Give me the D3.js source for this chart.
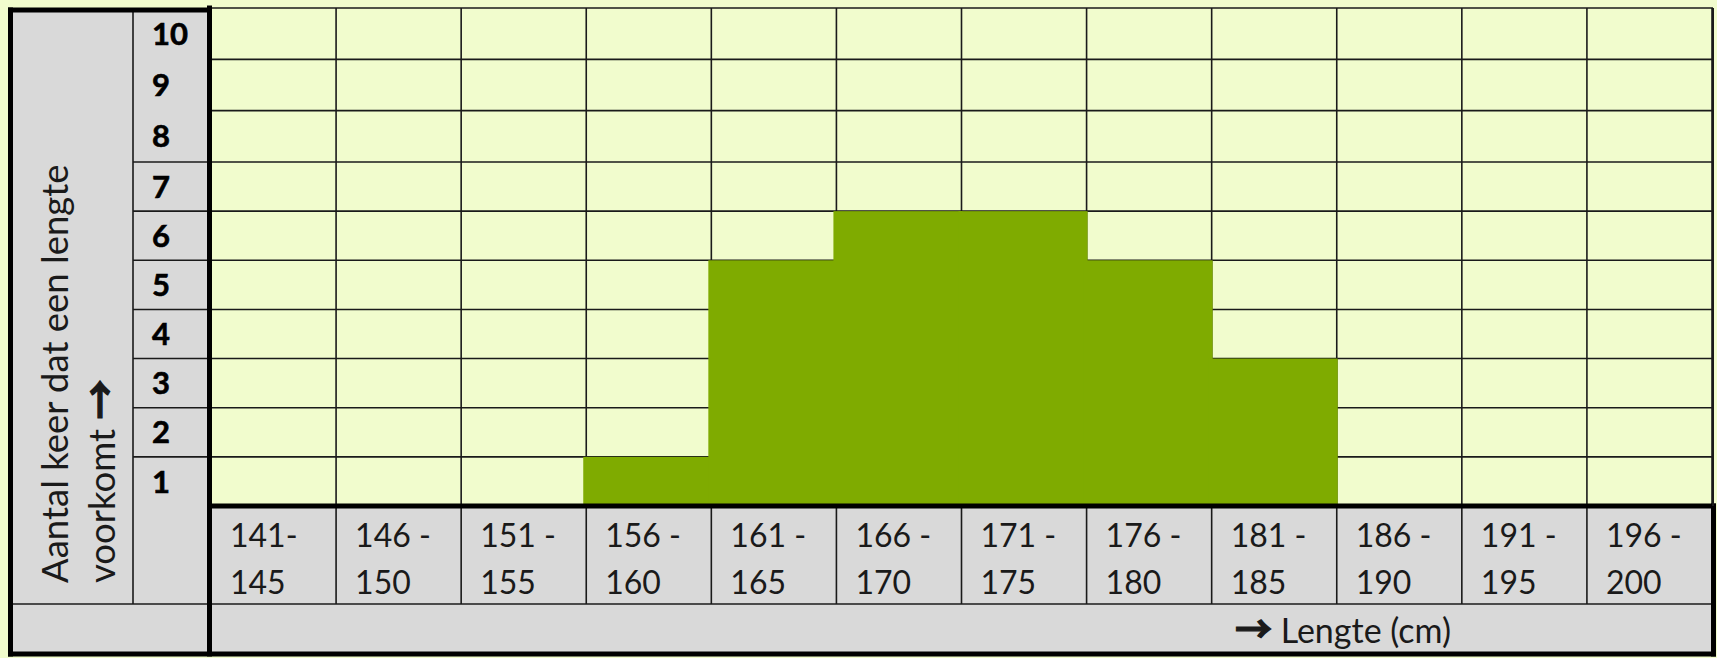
<!DOCTYPE html>
<html>
<head>
<meta charset="utf-8">
<script src="https://cdn.jsdelivr.net/npm/d3@7"></script>
<style>
  body { margin: 0; background: #f1fccd; }
  text { font-family: Lato, "Open Sans", sans-serif; }
  .arrow { font-family: "Noto Sans CJK JP", "DejaVu Sans", sans-serif; }
</style>
</head>
<body>
<div id="chart"></div>
<script>
var categories = ['141-145','146-150','151-155','156-160','161-165','166-170','171-175','176-180','181-185','186-190','191-195','196-200'];
var labelTop = ['141-','146 -','151 -','156 -','161 -','166 -','171 -','176 -','181 -','186 -','191 -','196 -'];
var labelBottom = ['145','150','155','160','165','170','175','180','185','190','195','200'];
var counts = [0,0,0,1,5,6,6,5,3,0,0,0];
var yTicks = [1,2,3,4,5,6,7,8,9,10];
var yTitle = ['Aantal keer dat een lengte', 'voorkomt '];
var xTitle = ' Lengte (cm)';
var arrow = '\u2192';

var width = 1717, height = 658;
var gridLeft = 211, gridRight = 1712, gridTop = 8, gridBottom = 506;
var labelRowBottom = 604, bottom = 654;
var colLine = 133, sep = 209.5;
var grey = '#d9d9d9', fillBg = '#f1fccd', green = '#7fab00', ink = '#1a1a1a';

var svg = d3.select('#chart').append('svg')
  .attr('width', width).attr('height', height);

var x = d3.scaleBand().domain(categories).range([gridLeft, gridRight]).padding(0);
var y = d3.scaleLinear().domain([0, 7, 10]).range([gridBottom, 162, gridTop]);

// panels
svg.append('rect').attr('x', 11).attr('y', 10).attr('width', sep - 11).attr('height', bottom - 10).attr('fill', grey);
svg.append('rect').attr('x', sep).attr('y', gridBottom).attr('width', 1714 - sep).attr('height', bottom - gridBottom).attr('fill', grey);
svg.append('rect').attr('x', gridLeft).attr('y', gridTop).attr('width', gridRight - gridLeft).attr('height', gridBottom - gridTop).attr('fill', fillBg);

// grid
var grid = svg.append('g').attr('stroke', ink).attr('stroke-width', 1.6);
var bounds = categories.map(function(c){ return x(c); }).concat([gridRight]);
grid.selectAll('.vline').data(bounds.slice(1)).enter().append('line')
  .attr('x1', function(d){ return d; }).attr('x2', function(d){ return d; })
  .attr('y1', gridTop).attr('y2', gridBottom);
grid.selectAll('.hline').data([0].concat(yTicks)).enter().append('line')
  .attr('x1', gridLeft).attr('x2', gridRight + 1)
  .attr('y1', function(d){ return y(d); }).attr('y2', function(d){ return y(d); });

// bars
svg.append('g').selectAll('rect').data(categories).enter().append('rect')
  .attr('x', function(d){ return x(d) - 3; })
  .attr('y', function(d, i){ return y(counts[i]); })
  .attr('width', x.bandwidth() + 4)
  .attr('height', function(d, i){ return y(0) - y(counts[i]); })
  .attr('fill', green)
  .attr('display', function(d, i){ return counts[i] > 0 ? null : 'none'; });

// cell lines in label areas
var cells = svg.append('g').attr('stroke', ink).attr('stroke-width', 1.6);
cells.append('line').attr('x1', colLine).attr('x2', colLine).attr('y1', 10).attr('y2', labelRowBottom);
cells.selectAll('.tl').data(yTicks.filter(function(d){ return d <= 7; })).enter().append('line')
  .attr('x1', colLine).attr('x2', sep)
  .attr('y1', function(d){ return y(d); }).attr('y2', function(d){ return y(d); });
cells.append('line').attr('x1', 11).attr('x2', 1713).attr('y1', labelRowBottom).attr('y2', labelRowBottom);
cells.selectAll('.xl').data(bounds.slice(1, -1)).enter().append('line')
  .attr('x1', function(d){ return d; }).attr('x2', function(d){ return d; })
  .attr('y1', gridBottom).attr('y2', labelRowBottom);

// thick borders
var thick = svg.append('g').attr('stroke', '#000').attr('stroke-width', 5).attr('stroke-linecap', 'square');
thick.append('line').attr('x1', 10.5).attr('x2', 10.5).attr('y1', 10).attr('y2', bottom);
thick.append('line').attr('x1', 10.5).attr('x2', sep).attr('y1', 10).attr('y2', 10);
thick.append('line').attr('x1', sep).attr('x2', sep).attr('y1', gridTop).attr('y2', bottom);
thick.append('line').attr('x1', sep).attr('x2', 1713.5).attr('y1', gridBottom).attr('y2', gridBottom);
thick.append('line').attr('x1', 1713.5).attr('x2', 1713.5).attr('y1', gridBottom).attr('y2', bottom);
thick.append('line').attr('x1', 10.5).attr('x2', 1713.5).attr('y1', bottom).attr('y2', bottom);
svg.append('line').attr('x1', 1713).attr('x2', 1713).attr('y1', gridTop).attr('y2', gridBottom)
  .attr('stroke', ink).attr('stroke-width', 2);

// y tick labels
svg.append('g').selectAll('text').data(yTicks).enter().append('text')
  .attr('x', 152).attr('y', function(d){ return (y(d) + y(d - 1)) / 2; })
  .attr('dy', '0.36em')
  .attr('font-size', 31).attr('font-weight', 'bold').attr('fill', '#000')
  .attr('stroke', '#000').attr('stroke-width', 0.6)
  .text(function(d){ return d; });

// x labels
var xl = svg.append('g').selectAll('text').data(categories).enter().append('text')
  .attr('font-size', 32).attr('fill', ink);
xl.append('tspan').attr('x', function(d){ return x(d) + 19; }).attr('y', 547)
  .text(function(d, i){ return labelTop[i]; });
xl.append('tspan').attr('x', function(d){ return x(d) + 19; }).attr('y', 594)
  .text(function(d, i){ return labelBottom[i]; });

// y title
var yt = svg.append('g').attr('transform', 'translate(68,583) rotate(-90)')
  .selectAll('text').data(yTitle).enter().append('text')
  .attr('x', 0).attr('y', function(d, i){ return i * 47; })
  .attr('font-size', 36.5).attr('fill', ink)
  .text(function(d){ return d; });
yt.filter(function(d, i){ return i === 1; }).append('tspan')
  .attr('class', 'arrow').attr('font-size', 40).attr('font-weight', 'bold')
  .attr('stroke', ink).attr('stroke-width', 1.2).text(arrow);

// x title
var xt = svg.append('text').attr('x', 1235).attr('y', 643)
  .attr('font-size', 34).attr('fill', ink);
xt.append('tspan').attr('class', 'arrow').attr('font-size', 37).attr('font-weight', 'bold')
  .attr('stroke', ink).attr('stroke-width', 1.2).text(arrow);
xt.append('tspan').text(xTitle);
</script>
</body>
</html>
